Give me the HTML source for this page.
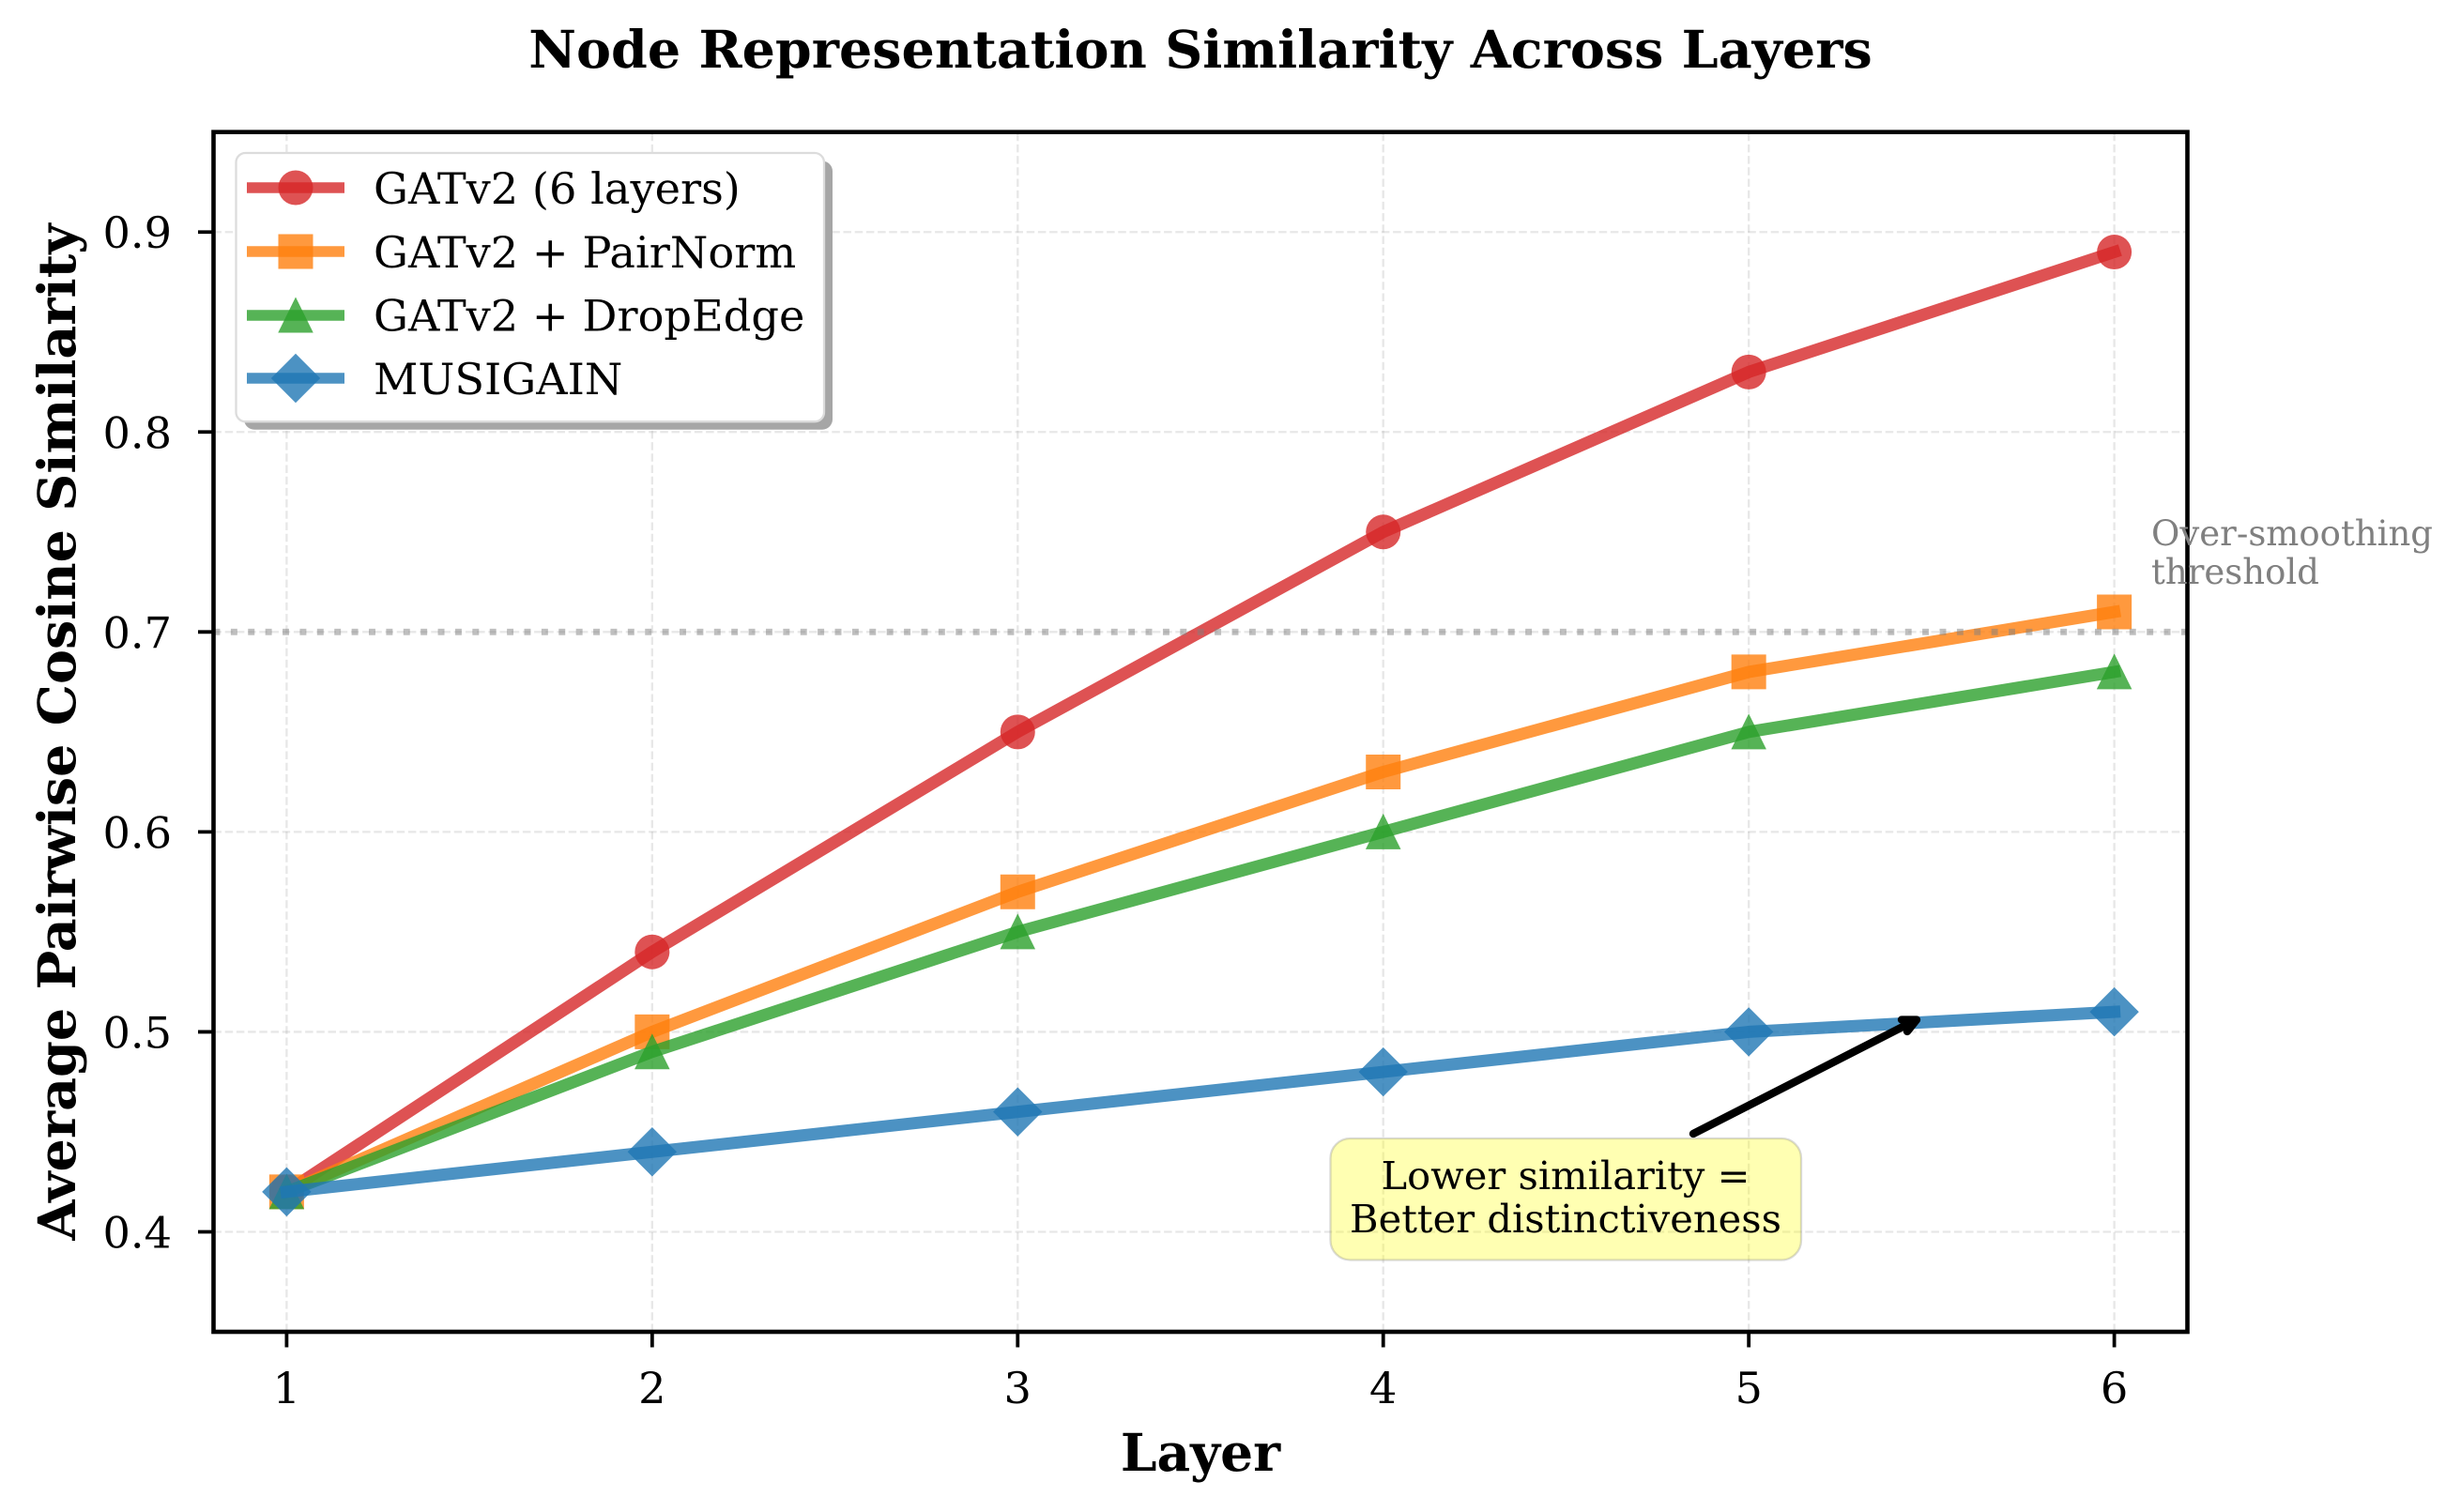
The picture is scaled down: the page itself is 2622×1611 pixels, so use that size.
<!DOCTYPE html>
<html lang="en">
<head>
<meta charset="utf-8">
<title>Node Representation Similarity Across Layers</title>
<style>
html,body{margin:0;padding:0;background:#fff;}
svg{display:block;}
text{font-family:"DejaVu Serif","Liberation Serif",serif;fill:#000;}
</style>
</head>
<body>
<svg id="chart" xmlns="http://www.w3.org/2000/svg" width="2622" height="1611" viewBox="0 0 2622 1611">
  <rect width="2622" height="1611" fill="#ffffff"/>
  <text x="1279" y="72" font-size="55.5" font-weight="bold" text-anchor="middle">Node Representation Similarity Across Layers</text>
  <g id="grid"></g>
  <g id="series"></g>
  <g id="threshold"></g>
  <g id="axes"></g>
  <text x="1279" y="1567" font-size="55" font-weight="bold" text-anchor="middle">Layer</text>
  <text transform="translate(80,780) rotate(-90)" font-size="55.5" font-weight="bold" text-anchor="middle">Average Pairwise Cosine Similarity</text>
  <g>
    <text x="2292" y="581" font-size="37" style="fill:#808080">Over-smoothing</text>
    <text x="2292" y="622" font-size="37" style="fill:#808080">threshold</text>
  </g>
  <g>
    <g fill="none" stroke="#000" stroke-width="8.3" stroke-linecap="round" stroke-linejoin="round">
      <path d="M1804 1208 L2041 1087"/>
      <path d="M2026 1086.5 L2042 1086.5 L2032 1099"/>
    </g>
    <rect x="1417.5" y="1213" width="501.5" height="129.5" rx="21" ry="21" fill="#ffff00" fill-opacity="0.3" stroke="#808080" stroke-opacity="0.3" stroke-width="2.3"/>
    <text x="1668" y="1267" font-size="41.6" text-anchor="middle">Lower similarity =</text>
    <text x="1668" y="1313" font-size="41.6" text-anchor="middle">Better distinctiveness</text>
  </g>
  <g id="legend">
    <rect x="260" y="171.5" width="627" height="286.2" rx="11" ry="11" fill="#a6a6a6"/>
    <rect x="251.5" y="163" width="626.5" height="286.2" rx="10" ry="10" fill="#ffffff" stroke="#dcdcdc" stroke-width="2.3"/>
  </g>
</svg>
<script>
const categories = [1, 2, 3, 4, 5, 6];
const gatv2Values = [0.42, 0.54, 0.65, 0.75, 0.83, 0.89];
const pairNormValues = [0.42, 0.50, 0.57, 0.63, 0.68, 0.71];
const dropEdgeValues = [0.42, 0.49, 0.55, 0.60, 0.65, 0.68];
const musigainValues = [0.42, 0.44, 0.46, 0.48, 0.50, 0.51];
const yTickLabels = ["0.4", "0.5", "0.6", "0.7", "0.8", "0.9"];
const thresholdValue = 0.7;

const NS = "http://www.w3.org/2000/svg";
const plot = { left: 227.5, right: 2330.5, top: 140.7, bottom: 1419 };
const xDomain = [0.8, 6.2];
const yDomain = [0.35, 0.95];

function xScale(v) {
  return plot.left + (v - xDomain[0]) / (xDomain[1] - xDomain[0]) * (plot.right - plot.left);
}
function yScale(v) {
  return plot.bottom - (v - yDomain[0]) / (yDomain[1] - yDomain[0]) * (plot.bottom - plot.top);
}
function make(tag, parent, attrs) {
  const el = document.createElementNS(NS, tag);
  for (const k in attrs) el.setAttribute(k, attrs[k]);
  parent.appendChild(el);
  return el;
}
function markerPath(shape, cx, cy) {
  if (shape === "circle") {
    const r = 18.5;
    return `M${cx - r} ${cy}A${r} ${r} 0 1 0 ${cx + r} ${cy}A${r} ${r} 0 1 0 ${cx - r} ${cy}Z`;
  }
  if (shape === "square") {
    const s = 18.5;
    return `M${cx - s} ${cy - s}H${cx + s}V${cy + s}H${cx - s}Z`;
  }
  if (shape === "triangle") {
    return `M${cx} ${cy - 19.5}L${cx + 18.75} ${cy + 18.5}H${cx - 18.75}Z`;
  }
  const d = 26.2;
  return `M${cx} ${cy - d}L${cx + d} ${cy}L${cx} ${cy + d}L${cx - d} ${cy}Z`;
}

const gridLayer = document.getElementById("grid");
const axesLayer = document.getElementById("axes");
const seriesLayer = document.getElementById("series");
const thresholdLayer = document.getElementById("threshold");
const legendLayer = document.getElementById("legend");

const gridStyle = { stroke: "#b0b0b0", "stroke-opacity": 0.3, "stroke-width": 2.3, "stroke-dasharray": "8.5 3.7", fill: "none" };

categories.forEach(function (c) {
  const x = xScale(c);
  const line = make("line", gridLayer, Object.assign({ x1: x, x2: x, y1: plot.bottom, y2: plot.top }, gridStyle));
  
  
  const tick = make("line", axesLayer, { x1: x, x2: x, y1: plot.bottom, y2: plot.bottom + 16.5, stroke: "#000", "stroke-width": 3.8 });
  
  
  const label = make("text", axesLayer, { x: x, y: 1495, "font-size": 46.25, "text-anchor": "middle" });
  label.textContent = String(c);
  
  
});

yTickLabels.forEach(function (t) {
  const y = yScale(parseFloat(t));
  const line = make("line", gridLayer, Object.assign({ x1: plot.left, x2: plot.right, y1: y, y2: y }, gridStyle));
  
  
  const tick = make("line", axesLayer, { x1: plot.left - 16.5, x2: plot.left, y1: y, y2: y, stroke: "#000", "stroke-width": 3.8 });
  
  
  const label = make("text", axesLayer, { x: 183, y: y + 17, "font-size": 46.25, "text-anchor": "end" });
  label.textContent = t;
  
  
});

const frame = make("rect", axesLayer, { x: plot.left, y: plot.top, width: plot.right - plot.left, height: plot.bottom - plot.top, fill: "none", stroke: "#000", "stroke-width": 4.6 });



const seriesList = [
  { key: "gatv2", label: "GATv2 (6 layers)", color: "#d62728", shape: "circle", values: gatv2Values },
  { key: "pairnorm", label: "GATv2 + PairNorm", color: "#ff7f0e", shape: "square", values: pairNormValues },
  { key: "dropedge", label: "GATv2 + DropEdge", color: "#2ca02c", shape: "triangle", values: dropEdgeValues },
  { key: "musigain", label: "MUSIGAIN", color: "#1f77b4", shape: "diamond", values: musigainValues }
];

seriesList.forEach(function (s) {
  const group = make("g", seriesLayer, {});
  
  
  const pts = s.values.map(function (v, i) { return xScale(categories[i]) + "," + yScale(v); }).join(" ");
  const line = make("polyline", group, { points: pts, fill: "none", stroke: s.color, "stroke-opacity": 0.8, "stroke-width": 13, "stroke-linecap": "square", "stroke-linejoin": "round" });
  
  
  s.values.forEach(function (v, i) {
    const mark = make("path", group, { d: markerPath(s.shape, xScale(categories[i]), yScale(v)), fill: s.color, "fill-opacity": 0.8 });
    
    
  });
});

const thresholdLine = make("line", thresholdLayer, { x1: plot.left, x2: plot.right, y1: yScale(thresholdValue), y2: yScale(thresholdValue), stroke: "#808080", "stroke-opacity": 0.5, "stroke-width": 6.94, "stroke-dasharray": "6.94 11.45" });



const legendRows = [200, 268, 336, 403];
const legendBaselines = [217, 285, 352.5, 420];
seriesList.forEach(function (s, i) {
  const entry = make("g", legendLayer, {});
  
  
  make("line", entry, { x1: 263, x2: 367, y1: legendRows[i], y2: legendRows[i], stroke: s.color, "stroke-opacity": 0.8, "stroke-width": 11.6 });
  make("path", entry, { d: markerPath(s.shape, 315, legendRows[i]), fill: s.color, "fill-opacity": 0.8 });
  const text = make("text", entry, { x: 398, y: legendBaselines[i], "font-size": 46.25 });
  text.textContent = s.label;
});
</script>
</body>
</html>
